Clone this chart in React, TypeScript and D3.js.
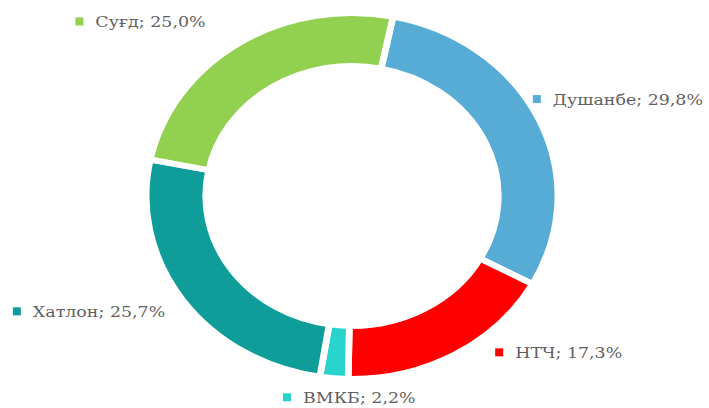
import React, { useEffect, useRef } from "react";
import * as d3 from "d3";

const regions = ["Душанбе", "НТЧ", "ВМКБ", "Хатлон", "Суғд"];
const shares = [29.8, 17.3, 2.2, 25.7, 25.0];
const colors = ["#56acd5", "#ff0000", "#27d3cc", "#0f9d99", "#92d050"];
// label offsets from the outer edge of each slice (px)
const labelNudge = [
  [-6, -20],
  [40, -2],
  [-51, 19],
  [-170, 11],
  [-163, -22],
];

const App = () => {
  const svgRef = useRef<SVGSVGElement>(null);

  useEffect(() => {
    const width = 709;
    const height = 408;
    const cx = 352;
    const cy = 196;
    const outer = 183;
    const inner = 130;
    const sx = 1.125; // picture is stretched sideways
    const startAngle = (11.5 * Math.PI) / 180;

    const svg = d3.select(svgRef.current);
    svg.selectAll("*").remove();
    svg.attr("width", width).attr("height", height);

    const data = regions.map((name, i) => ({ name, value: shares[i], color: colors[i] }));

    const pie = d3
      .pie<any>()
      .value((d) => d.value)
      .sort(null)
      .startAngle(startAngle)
      .endAngle(startAngle + 2 * Math.PI);

    const arc = d3.arc<any>().innerRadius(inner).outerRadius(outer);

    const g = svg
      .append("g")
      .attr("transform", `translate(${cx},${cy}) scale(${sx},1)`);

    const arcs = pie(data);

    g.selectAll("path")
      .data(arcs)
      .enter()
      .append("path")
      .attr("d", arc)
      .attr("fill", (d) => d.data.color)
      .attr("stroke", "#fff")
      .attr("stroke-width", 6);

    const labels = svg
      .selectAll("g.lbl")
      .data(arcs)
      .enter()
      .append("g")
      .attr("class", "lbl")
      .attr("transform", (d, i) => {
        const a = (d.startAngle + d.endAngle) / 2;
        const x = cx + sx * outer * Math.sin(a) + labelNudge[i][0];
        const y = cy - outer * Math.cos(a) + labelNudge[i][1];
        return `translate(${x},${y})`;
      });

    labels
      .append("rect")
      .attr("x", 0)
      .attr("y", -4)
      .attr("width", 8)
      .attr("height", 8)
      .attr("fill", (d) => d.data.color);

    labels
      .append("text")
      .attr("transform", `translate(20,0) scale(${sx},1)`)
      .attr("dy", "0.36em")
      .style("font-family", "'DejaVu Serif', serif")
      .style("font-size", "15.5px")
      .style("fill", "#5f5f5f")
      .text((d) => `${d.data.name}; ${d.data.value.toFixed(1).replace(".", ",")}%`);
  }, []);

  return (
    <svg
      ref={svgRef}
      style={{ position: "absolute", left: 0, top: 0, background: "#fff" }}
    ></svg>
  );
};

export default App;
